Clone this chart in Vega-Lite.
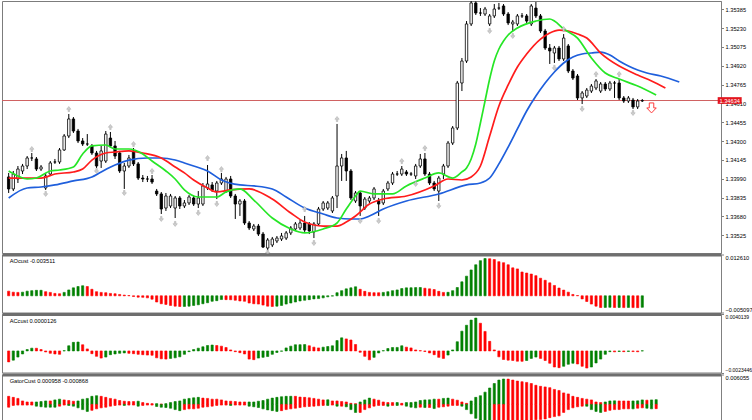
{
"$schema": "https://vega.github.io/schema/vega-lite/v6.json",
"background": "white",
"padding": {"left": 1, "top": 0, "right": 0, "bottom": 0},
"spacing": 1.5,
"bounds": "flush",
"config": {
 "view": {"stroke": "#7c7c7c", "strokeWidth": 1},
 "font": "Liberation Sans",
 "axis": {"labelFont": "Liberation Sans", "labelFontSize": 5.7, "labelColor": "#000000", "tickColor": "#808080", "domainColor": "#808080", "tickSize": 2.5, "labelPadding": 1.5, "grid": false},
 "text": {"font": "Liberation Sans"}
},
"datasets": {
 "price": [{"price": 1.34634}],
 "signal": [{"i": 139, "p": 1.34573}],
 "candles": [
{"i":0,"o":1.34005,"h":1.34038,"l":1.33873,"c":1.33906},
{"i":1,"o":1.33906,"h":1.34054,"l":1.33889,"c":1.34029},
{"i":2,"o":1.33988,"h":1.34095,"l":1.33955,"c":1.34070},
{"i":3,"o":1.34054,"h":1.34112,"l":1.34029,"c":1.34095},
{"i":4,"o":1.34095,"h":1.34177,"l":1.34070,"c":1.34161},
{"i":5,"o":1.34161,"h":1.34202,"l":1.34136,"c":1.34161},
{"i":6,"o":1.34153,"h":1.34169,"l":1.34054,"c":1.34070},
{"i":7,"o":1.34070,"h":1.34103,"l":1.34054,"c":1.34087},
{"i":8,"o":1.33914,"h":1.34038,"l":1.33898,"c":1.34013},
{"i":9,"o":1.34029,"h":1.34136,"l":1.34013,"c":1.34120},
{"i":10,"o":1.34128,"h":1.34153,"l":1.34112,"c":1.34128},
{"i":11,"o":1.34128,"h":1.34243,"l":1.34112,"c":1.34227},
{"i":12,"o":1.34227,"h":1.34358,"l":1.34219,"c":1.34342},
{"i":13,"o":1.34342,"h":1.34523,"l":1.34325,"c":1.34482},
{"i":14,"o":1.34482,"h":1.34498,"l":1.34367,"c":1.34383},
{"i":15,"o":1.34383,"h":1.34400,"l":1.34284,"c":1.34301},
{"i":16,"o":1.34301,"h":1.34325,"l":1.34260,"c":1.34276},
{"i":17,"o":1.34276,"h":1.34358,"l":1.34260,"c":1.34276},
{"i":18,"o":1.34260,"h":1.34276,"l":1.34186,"c":1.34202},
{"i":19,"o":1.34202,"h":1.34219,"l":1.34079,"c":1.34095},
{"i":20,"o":1.34136,"h":1.34260,"l":1.34079,"c":1.34219},
{"i":21,"o":1.34136,"h":1.34383,"l":1.34120,"c":1.34358},
{"i":22,"o":1.34325,"h":1.34375,"l":1.34243,"c":1.34260},
{"i":23,"o":1.34260,"h":1.34301,"l":1.34153,"c":1.34177},
{"i":24,"o":1.34202,"h":1.34219,"l":1.34038,"c":1.34054},
{"i":25,"o":1.34054,"h":1.34120,"l":1.33906,"c":1.34095},
{"i":26,"o":1.34095,"h":1.34186,"l":1.34079,"c":1.34161},
{"i":27,"o":1.34219,"h":1.34243,"l":1.34095,"c":1.34112},
{"i":28,"o":1.34112,"h":1.34128,"l":1.33980,"c":1.33996},
{"i":29,"o":1.33996,"h":1.34021,"l":1.33963,"c":1.33988},
{"i":30,"o":1.33988,"h":1.34013,"l":1.33963,"c":1.33988},
{"i":31,"o":1.33988,"h":1.34021,"l":1.33947,"c":1.33963},
{"i":32,"o":1.33889,"h":1.33906,"l":1.33848,"c":1.33865},
{"i":33,"o":1.33865,"h":1.33881,"l":1.33700,"c":1.33741},
{"i":34,"o":1.33749,"h":1.33873,"l":1.33725,"c":1.33848},
{"i":35,"o":1.33766,"h":1.33865,"l":1.33749,"c":1.33848},
{"i":36,"o":1.33749,"h":1.33848,"l":1.33667,"c":1.33832},
{"i":37,"o":1.33832,"h":1.33848,"l":1.33741,"c":1.33766},
{"i":38,"o":1.33766,"h":1.33815,"l":1.33749,"c":1.33791},
{"i":39,"o":1.33791,"h":1.33856,"l":1.33774,"c":1.33840},
{"i":40,"o":1.33832,"h":1.33848,"l":1.33766,"c":1.33782},
{"i":41,"o":1.33782,"h":1.33889,"l":1.33749,"c":1.33832},
{"i":42,"o":1.33782,"h":1.33955,"l":1.33766,"c":1.33931},
{"i":43,"o":1.33914,"h":1.34103,"l":1.33898,"c":1.33947},
{"i":44,"o":1.33939,"h":1.33963,"l":1.33881,"c":1.33898},
{"i":45,"o":1.33889,"h":1.33972,"l":1.33823,"c":1.33955},
{"i":46,"o":1.33955,"h":1.34038,"l":1.33939,"c":1.33988},
{"i":47,"o":1.33889,"h":1.34005,"l":1.33873,"c":1.33988},
{"i":48,"o":1.33988,"h":1.34013,"l":1.33832,"c":1.33848},
{"i":49,"o":1.33848,"h":1.33865,"l":1.33659,"c":1.33782},
{"i":50,"o":1.33782,"h":1.33823,"l":1.33684,"c":1.33807},
{"i":51,"o":1.33807,"h":1.33823,"l":1.33610,"c":1.33626},
{"i":52,"o":1.33626,"h":1.33642,"l":1.33568,"c":1.33585},
{"i":53,"o":1.33577,"h":1.33618,"l":1.33560,"c":1.33601},
{"i":54,"o":1.33601,"h":1.33618,"l":1.33519,"c":1.33535},
{"i":55,"o":1.33535,"h":1.33552,"l":1.33420,"c":1.33428},
{"i":56,"o":1.33420,"h":1.33502,"l":1.33404,"c":1.33486},
{"i":57,"o":1.33445,"h":1.33511,"l":1.33428,"c":1.33494},
{"i":58,"o":1.33478,"h":1.33519,"l":1.33461,"c":1.33502},
{"i":59,"o":1.33494,"h":1.33544,"l":1.33478,"c":1.33519},
{"i":60,"o":1.33502,"h":1.33560,"l":1.33486,"c":1.33544},
{"i":61,"o":1.33544,"h":1.33601,"l":1.33527,"c":1.33585},
{"i":62,"o":1.33577,"h":1.33634,"l":1.33560,"c":1.33618},
{"i":63,"o":1.33585,"h":1.33651,"l":1.33568,"c":1.33626},
{"i":64,"o":1.33626,"h":1.33684,"l":1.33552,"c":1.33568},
{"i":65,"o":1.33618,"h":1.33634,"l":1.33535,"c":1.33560},
{"i":66,"o":1.33552,"h":1.33634,"l":1.33502,"c":1.33618},
{"i":67,"o":1.33618,"h":1.33758,"l":1.33601,"c":1.33741},
{"i":68,"o":1.33741,"h":1.33807,"l":1.33725,"c":1.33791},
{"i":69,"o":1.33749,"h":1.33807,"l":1.33733,"c":1.33791},
{"i":70,"o":1.33725,"h":1.33848,"l":1.33708,"c":1.33832},
{"i":71,"o":1.33848,"h":1.34441,"l":1.33749,"c":1.34095},
{"i":72,"o":1.34095,"h":1.34194,"l":1.33972,"c":1.34161},
{"i":73,"o":1.34161,"h":1.34219,"l":1.33972,"c":1.34054},
{"i":74,"o":1.34054,"h":1.34070,"l":1.33815,"c":1.33832},
{"i":75,"o":1.33807,"h":1.33889,"l":1.33791,"c":1.33873},
{"i":76,"o":1.33873,"h":1.33889,"l":1.33684,"c":1.33766},
{"i":77,"o":1.33749,"h":1.33840,"l":1.33733,"c":1.33823},
{"i":78,"o":1.33807,"h":1.33848,"l":1.33791,"c":1.33832},
{"i":79,"o":1.33832,"h":1.33922,"l":1.33815,"c":1.33906},
{"i":80,"o":1.33807,"h":1.33832,"l":1.33684,"c":1.33782},
{"i":81,"o":1.33791,"h":1.33906,"l":1.33774,"c":1.33889},
{"i":82,"o":1.33906,"h":1.33972,"l":1.33889,"c":1.33955},
{"i":83,"o":1.33955,"h":1.34046,"l":1.33939,"c":1.34029},
{"i":84,"o":1.34029,"h":1.34054,"l":1.34013,"c":1.34029},
{"i":85,"o":1.34029,"h":1.34095,"l":1.34013,"c":1.34070},
{"i":86,"o":1.34046,"h":1.34062,"l":1.34013,"c":1.34029},
{"i":87,"o":1.34029,"h":1.34046,"l":1.34013,"c":1.34029},
{"i":88,"o":1.34013,"h":1.34112,"l":1.33988,"c":1.34095},
{"i":89,"o":1.34095,"h":1.34194,"l":1.34079,"c":1.34153},
{"i":90,"o":1.34153,"h":1.34202,"l":1.34013,"c":1.34029},
{"i":91,"o":1.34029,"h":1.34046,"l":1.33939,"c":1.33955},
{"i":92,"o":1.33955,"h":1.33972,"l":1.33889,"c":1.33906},
{"i":93,"o":1.33889,"h":1.34013,"l":1.33807,"c":1.33996},
{"i":94,"o":1.34029,"h":1.34112,"l":1.33988,"c":1.34095},
{"i":95,"o":1.34095,"h":1.34301,"l":1.34079,"c":1.34284},
{"i":96,"o":1.34284,"h":1.34424,"l":1.34268,"c":1.34408},
{"i":97,"o":1.34408,"h":1.34795,"l":1.34391,"c":1.34778},
{"i":98,"o":1.34778,"h":1.34984,"l":1.34712,"c":1.34959},
{"i":99,"o":1.34959,"h":1.35288,"l":1.34943,"c":1.35264},
{"i":100,"o":1.35264,"h":1.35453,"l":1.35247,"c":1.35437},
{"i":101,"o":1.35437,"h":1.35450,"l":1.35338,"c":1.35354},
{"i":102,"o":1.35354,"h":1.35395,"l":1.35330,"c":1.35354},
{"i":103,"o":1.35346,"h":1.35404,"l":1.35330,"c":1.35387},
{"i":104,"o":1.35264,"h":1.35346,"l":1.35247,"c":1.35330},
{"i":105,"o":1.35330,"h":1.35428,"l":1.35313,"c":1.35387},
{"i":106,"o":1.35395,"h":1.35437,"l":1.35379,"c":1.35395},
{"i":107,"o":1.35412,"h":1.35428,"l":1.35330,"c":1.35346},
{"i":108,"o":1.35346,"h":1.35362,"l":1.35255,"c":1.35272},
{"i":109,"o":1.35264,"h":1.35297,"l":1.35206,"c":1.35280},
{"i":110,"o":1.35264,"h":1.35346,"l":1.35247,"c":1.35330},
{"i":111,"o":1.35330,"h":1.35354,"l":1.35313,"c":1.35330},
{"i":112,"o":1.35330,"h":1.35346,"l":1.35272,"c":1.35288},
{"i":113,"o":1.35264,"h":1.35428,"l":1.35247,"c":1.35412},
{"i":114,"o":1.35395,"h":1.35445,"l":1.35313,"c":1.35330},
{"i":115,"o":1.35330,"h":1.35346,"l":1.35190,"c":1.35206},
{"i":116,"o":1.35206,"h":1.35223,"l":1.35050,"c":1.35066},
{"i":117,"o":1.35066,"h":1.35099,"l":1.34935,"c":1.35042},
{"i":118,"o":1.35025,"h":1.35083,"l":1.34943,"c":1.35066},
{"i":119,"o":1.35066,"h":1.35083,"l":1.34959,"c":1.34976},
{"i":120,"o":1.34976,"h":1.35181,"l":1.34959,"c":1.35148},
{"i":121,"o":1.35083,"h":1.35099,"l":1.34860,"c":1.34877},
{"i":122,"o":1.34877,"h":1.34893,"l":1.34803,"c":1.34819},
{"i":123,"o":1.34836,"h":1.34852,"l":1.34638,"c":1.34655},
{"i":124,"o":1.34655,"h":1.34712,"l":1.34605,"c":1.34696},
{"i":125,"o":1.34671,"h":1.34737,"l":1.34655,"c":1.34720},
{"i":126,"o":1.34712,"h":1.34770,"l":1.34696,"c":1.34753},
{"i":127,"o":1.34737,"h":1.34811,"l":1.34720,"c":1.34795},
{"i":128,"o":1.34712,"h":1.34786,"l":1.34696,"c":1.34770},
{"i":129,"o":1.34770,"h":1.34786,"l":1.34712,"c":1.34729},
{"i":130,"o":1.34729,"h":1.34795,"l":1.34712,"c":1.34778},
{"i":131,"o":1.34778,"h":1.34795,"l":1.34655,"c":1.34778},
{"i":132,"o":1.34778,"h":1.34811,"l":1.34638,"c":1.34655},
{"i":133,"o":1.34655,"h":1.34671,"l":1.34614,"c":1.34630},
{"i":134,"o":1.34630,"h":1.34671,"l":1.34614,"c":1.34655},
{"i":135,"o":1.34638,"h":1.34655,"l":1.34564,"c":1.34581},
{"i":136,"o":1.34581,"h":1.34646,"l":1.34564,"c":1.34630},
{"i":137,"o":1.34630,"h":1.34646,"l":1.34622,"c":1.34634}
 ],
 "ma": [
{"s":"jaw","i":0,"v":1.33832},{"s":"jaw","i":4,"v":1.33914},{"s":"jaw","i":7,"v":1.33922},{"s":"jaw","i":10,"v":1.33939},{"s":"jaw","i":14,"v":1.33972},{"s":"jaw","i":18,"v":1.34005},{"s":"jaw","i":20,"v":1.34046},{"s":"jaw","i":23,"v":1.34103},{"s":"jaw","i":26,"v":1.34144},{"s":"jaw","i":30,"v":1.34161},{"s":"jaw","i":33,"v":1.34161},{"s":"jaw","i":36,"v":1.34144},{"s":"jaw","i":38,"v":1.34120},{"s":"jaw","i":40,"v":1.34095},{"s":"jaw","i":43,"v":1.34054},{"s":"jaw","i":46,"v":1.33980},{"s":"jaw","i":50,"v":1.33939},{"s":"jaw","i":53,"v":1.33931},{"s":"jaw","i":57,"v":1.33906},{"s":"jaw","i":60,"v":1.33840},{"s":"jaw","i":64,"v":1.33749},{"s":"jaw","i":68,"v":1.33700},{"s":"jaw","i":71,"v":1.33667},{"s":"jaw","i":74,"v":1.33659},{"s":"jaw","i":76,"v":1.33659},{"s":"jaw","i":78,"v":1.33684},{"s":"jaw","i":81,"v":1.33741},{"s":"jaw","i":86,"v":1.33807},{"s":"jaw","i":93,"v":1.33865},{"s":"jaw","i":99,"v":1.33939},{"s":"jaw","i":102,"v":1.33955},{"s":"jaw","i":104,"v":1.33996},{"s":"jaw","i":106,"v":1.34112},{"s":"jaw","i":108,"v":1.34251},{"s":"jaw","i":110,"v":1.34400},{"s":"jaw","i":112,"v":1.34548},{"s":"jaw","i":114,"v":1.34671},{"s":"jaw","i":116,"v":1.34778},{"s":"jaw","i":118,"v":1.34869},{"s":"jaw","i":120,"v":1.34943},{"s":"jaw","i":122,"v":1.34992},{"s":"jaw","i":124,"v":1.35017},{"s":"jaw","i":126,"v":1.35025},{"s":"jaw","i":128,"v":1.35033},{"s":"jaw","i":130,"v":1.35009},{"s":"jaw","i":132,"v":1.34959},{"s":"jaw","i":134,"v":1.34918},{"s":"jaw","i":136,"v":1.34885},{"s":"jaw","i":138,"v":1.34860},{"s":"jaw","i":141,"v":1.34836},{"s":"jaw","i":145,"v":1.34786},
{"s":"teeth","i":0,"v":1.33996},{"s":"teeth","i":3,"v":1.33996},{"s":"teeth","i":7,"v":1.33996},{"s":"teeth","i":10,"v":1.34029},{"s":"teeth","i":14,"v":1.34046},{"s":"teeth","i":16,"v":1.34070},{"s":"teeth","i":18,"v":1.34144},{"s":"teeth","i":21,"v":1.34202},{"s":"teeth","i":23,"v":1.34210},{"s":"teeth","i":26,"v":1.34219},{"s":"teeth","i":29,"v":1.34202},{"s":"teeth","i":33,"v":1.34161},{"s":"teeth","i":36,"v":1.34087},{"s":"teeth","i":38,"v":1.34038},{"s":"teeth","i":40,"v":1.33980},{"s":"teeth","i":43,"v":1.33914},{"s":"teeth","i":45,"v":1.33881},{"s":"teeth","i":48,"v":1.33898},{"s":"teeth","i":52,"v":1.33906},{"s":"teeth","i":57,"v":1.33823},{"s":"teeth","i":61,"v":1.33708},{"s":"teeth","i":64,"v":1.33634},{"s":"teeth","i":68,"v":1.33601},{"s":"teeth","i":71,"v":1.33601},{"s":"teeth","i":73,"v":1.33634},{"s":"teeth","i":75,"v":1.33684},{"s":"teeth","i":78,"v":1.33782},{"s":"teeth","i":81,"v":1.33823},{"s":"teeth","i":86,"v":1.33848},{"s":"teeth","i":92,"v":1.33931},{"s":"teeth","i":95,"v":1.33988},{"s":"teeth","i":98,"v":1.33980},{"s":"teeth","i":100,"v":1.34005},{"s":"teeth","i":102,"v":1.34095},{"s":"teeth","i":104,"v":1.34342},{"s":"teeth","i":106,"v":1.34589},{"s":"teeth","i":108,"v":1.34762},{"s":"teeth","i":110,"v":1.34910},{"s":"teeth","i":112,"v":1.35017},{"s":"teeth","i":115,"v":1.35140},{"s":"teeth","i":117,"v":1.35190},{"s":"teeth","i":119,"v":1.35214},{"s":"teeth","i":121,"v":1.35206},{"s":"teeth","i":123,"v":1.35181},{"s":"teeth","i":125,"v":1.35148},{"s":"teeth","i":128,"v":1.35025},{"s":"teeth","i":132,"v":1.34918},{"s":"teeth","i":136,"v":1.34844},{"s":"teeth","i":139,"v":1.34795},{"s":"teeth","i":142,"v":1.34737},
{"s":"lips","i":0,"v":1.34054},{"s":"lips","i":2,"v":1.34013},{"s":"lips","i":4,"v":1.33988},{"s":"lips","i":6,"v":1.33996},{"s":"lips","i":9,"v":1.34054},{"s":"lips","i":11,"v":1.34062},{"s":"lips","i":14,"v":1.34087},{"s":"lips","i":16,"v":1.34194},{"s":"lips","i":18,"v":1.34260},{"s":"lips","i":21,"v":1.34268},{"s":"lips","i":23,"v":1.34235},{"s":"lips","i":26,"v":1.34235},{"s":"lips","i":29,"v":1.34194},{"s":"lips","i":31,"v":1.34136},{"s":"lips","i":34,"v":1.34054},{"s":"lips","i":36,"v":1.33988},{"s":"lips","i":38,"v":1.33898},{"s":"lips","i":41,"v":1.33840},{"s":"lips","i":45,"v":1.33840},{"s":"lips","i":47,"v":1.33881},{"s":"lips","i":50,"v":1.33906},{"s":"lips","i":53,"v":1.33815},{"s":"lips","i":57,"v":1.33667},{"s":"lips","i":61,"v":1.33577},{"s":"lips","i":64,"v":1.33544},{"s":"lips","i":68,"v":1.33577},{"s":"lips","i":71,"v":1.33626},{"s":"lips","i":73,"v":1.33741},{"s":"lips","i":75,"v":1.33848},{"s":"lips","i":76,"v":1.33889},{"s":"lips","i":79,"v":1.33865},{"s":"lips","i":83,"v":1.33865},{"s":"lips","i":86,"v":1.33931},{"s":"lips","i":90,"v":1.33996},{"s":"lips","i":93,"v":1.34038},{"s":"lips","i":96,"v":1.33996},{"s":"lips","i":98,"v":1.34046},{"s":"lips","i":99,"v":1.34079},{"s":"lips","i":100,"v":1.34153},{"s":"lips","i":101,"v":1.34276},{"s":"lips","i":102,"v":1.34449},{"s":"lips","i":103,"v":1.34630},{"s":"lips","i":104,"v":1.34811},{"s":"lips","i":105,"v":1.34959},{"s":"lips","i":106,"v":1.35058},{"s":"lips","i":107,"v":1.35124},{"s":"lips","i":108,"v":1.35173},{"s":"lips","i":110,"v":1.35231},{"s":"lips","i":114,"v":1.35288},{"s":"lips","i":117,"v":1.35305},{"s":"lips","i":118,"v":1.35288},{"s":"lips","i":120,"v":1.35223},{"s":"lips","i":123,"v":1.35148},{"s":"lips","i":126,"v":1.34984},{"s":"lips","i":129,"v":1.34860},{"s":"lips","i":132,"v":1.34811},{"s":"lips","i":136,"v":1.34753},{"s":"lips","i":140,"v":1.34679}
 ],
 "fractals": [
{"i":5,"t":"up","p":1.34235},{"i":13,"t":"up","p":1.34564},{"i":22,"t":"up","p":1.34416},{"i":27,"t":"up","p":1.34276},{"i":31,"t":"up","p":1.34054},{"i":43,"t":"up","p":1.34161},{"i":46,"t":"up","p":1.34070},{"i":64,"t":"up","p":1.33741},{"i":71,"t":"up","p":1.34482},{"i":85,"t":"up","p":1.34136},{"i":90,"t":"up","p":1.34243},{"i":120,"t":"up","p":1.35223},{"i":127,"t":"up","p":1.34852},{"i":132,"t":"up","p":1.34852},
{"i":8,"t":"down","p":1.33865},{"i":19,"t":"down","p":1.34054},{"i":25,"t":"down","p":1.33873},{"i":33,"t":"down","p":1.33659},{"i":36,"t":"down","p":1.33618},{"i":41,"t":"down","p":1.33708},{"i":45,"t":"down","p":1.33782},{"i":56,"t":"down","p":1.33383},{"i":66,"t":"down","p":1.33461},{"i":76,"t":"down","p":1.33642},{"i":80,"t":"down","p":1.33642},{"i":88,"t":"down","p":1.33947},{"i":93,"t":"down","p":1.33766},{"i":104,"t":"down","p":1.35206},{"i":109,"t":"down","p":1.35165},{"i":118,"t":"down","p":1.34902},{"i":124,"t":"down","p":1.34564},{"i":135,"t":"down","p":1.34531}
 ],
 "ao": [
{"i":0,"v":0.00142,"c":"r"},{"i":1,"v":0.00111,"c":"r"},{"i":2,"v":0.00104,"c":"r"},{"i":3,"v":0.00111,"c":"g"},{"i":4,"v":0.00142,"c":"g"},{"i":5,"v":0.00158,"c":"g"},{"i":6,"v":0.00167,"c":"g"},{"i":7,"v":0.00168,"c":"g"},{"i":8,"v":0.00126,"c":"r"},{"i":9,"v":0.00104,"c":"r"},{"i":10,"v":0.00073,"c":"r"},{"i":11,"v":0.00063,"c":"r"},{"i":12,"v":0.00104,"c":"g"},{"i":13,"v":0.00180,"c":"g"},{"i":14,"v":0.00243,"c":"g"},{"i":15,"v":0.00284,"c":"g"},{"i":16,"v":0.00307,"c":"g"},{"i":17,"v":0.00284,"c":"r"},{"i":18,"v":0.00199,"c":"r"},{"i":19,"v":0.00126,"c":"r"},{"i":20,"v":0.00104,"c":"r"},{"i":21,"v":0.00095,"c":"r"},{"i":22,"v":0.00073,"c":"r"},{"i":23,"v":0.00063,"c":"r"},{"i":24,"v":0.00041,"c":"r"},{"i":25,"v":0.00022,"c":"r"},{"i":26,"v":0.00009,"c":"r"},{"i":27,"v":-0.00022,"c":"r"},{"i":28,"v":-0.00041,"c":"r"},{"i":29,"v":-0.00047,"c":"r"},{"i":30,"v":-0.00063,"c":"r"},{"i":31,"v":-0.00104,"c":"r"},{"i":32,"v":-0.00190,"c":"r"},{"i":33,"v":-0.00243,"c":"r"},{"i":34,"v":-0.00262,"c":"r"},{"i":35,"v":-0.00294,"c":"r"},{"i":36,"v":-0.00316,"c":"r"},{"i":37,"v":-0.00326,"c":"r"},{"i":38,"v":-0.00324,"c":"g"},{"i":39,"v":-0.00316,"c":"g"},{"i":40,"v":-0.00294,"c":"g"},{"i":41,"v":-0.00275,"c":"g"},{"i":42,"v":-0.00243,"c":"g"},{"i":43,"v":-0.00212,"c":"g"},{"i":44,"v":-0.00167,"c":"g"},{"i":45,"v":-0.00149,"c":"g"},{"i":46,"v":-0.00114,"c":"g"},{"i":47,"v":-0.00117,"c":"r"},{"i":48,"v":-0.00120,"c":"r"},{"i":49,"v":-0.00136,"c":"r"},{"i":50,"v":-0.00158,"c":"r"},{"i":51,"v":-0.00167,"c":"r"},{"i":52,"v":-0.00221,"c":"r"},{"i":53,"v":-0.00243,"c":"r"},{"i":54,"v":-0.00253,"c":"r"},{"i":55,"v":-0.00284,"c":"r"},{"i":56,"v":-0.00316,"c":"r"},{"i":57,"v":-0.00325,"c":"r"},{"i":58,"v":-0.00316,"c":"g"},{"i":59,"v":-0.00294,"c":"g"},{"i":60,"v":-0.00253,"c":"g"},{"i":61,"v":-0.00221,"c":"g"},{"i":62,"v":-0.00190,"c":"g"},{"i":63,"v":-0.00158,"c":"g"},{"i":64,"v":-0.00136,"c":"g"},{"i":65,"v":-0.00117,"c":"g"},{"i":66,"v":-0.00095,"c":"g"},{"i":67,"v":-0.00085,"c":"g"},{"i":68,"v":-0.00063,"c":"g"},{"i":69,"v":-0.00032,"c":"g"},{"i":70,"v":-0.00009,"c":"g"},{"i":71,"v":0.00095,"c":"g"},{"i":72,"v":0.00158,"c":"g"},{"i":73,"v":0.00212,"c":"g"},{"i":74,"v":0.00243,"c":"g"},{"i":75,"v":0.00275,"c":"g"},{"i":76,"v":0.00199,"c":"r"},{"i":77,"v":0.00136,"c":"r"},{"i":78,"v":0.00104,"c":"r"},{"i":79,"v":0.00095,"c":"r"},{"i":80,"v":0.00094,"c":"r"},{"i":81,"v":0.00104,"c":"g"},{"i":82,"v":0.00126,"c":"g"},{"i":83,"v":0.00158,"c":"g"},{"i":84,"v":0.00180,"c":"g"},{"i":85,"v":0.00221,"c":"g"},{"i":86,"v":0.00243,"c":"g"},{"i":87,"v":0.00246,"c":"g"},{"i":88,"v":0.00250,"c":"g"},{"i":89,"v":0.00253,"c":"g"},{"i":90,"v":0.00231,"c":"r"},{"i":91,"v":0.00212,"c":"r"},{"i":92,"v":0.00190,"c":"r"},{"i":93,"v":0.00136,"c":"r"},{"i":94,"v":0.00104,"c":"r"},{"i":95,"v":0.00107,"c":"g"},{"i":96,"v":0.00158,"c":"g"},{"i":97,"v":0.00253,"c":"g"},{"i":98,"v":0.00427,"c":"g"},{"i":99,"v":0.00600,"c":"g"},{"i":100,"v":0.00790,"c":"g"},{"i":101,"v":0.00948,"c":"g"},{"i":102,"v":0.01074,"c":"g"},{"i":103,"v":0.01138,"c":"g"},{"i":104,"v":0.01131,"c":"r"},{"i":105,"v":0.01106,"c":"r"},{"i":106,"v":0.01043,"c":"r"},{"i":107,"v":0.01011,"c":"r"},{"i":108,"v":0.00948,"c":"r"},{"i":109,"v":0.00853,"c":"r"},{"i":110,"v":0.00822,"c":"r"},{"i":111,"v":0.00727,"c":"r"},{"i":112,"v":0.00695,"c":"r"},{"i":113,"v":0.00664,"c":"r"},{"i":114,"v":0.00616,"c":"r"},{"i":115,"v":0.00537,"c":"r"},{"i":116,"v":0.00474,"c":"r"},{"i":117,"v":0.00395,"c":"r"},{"i":118,"v":0.00316,"c":"r"},{"i":119,"v":0.00237,"c":"r"},{"i":120,"v":0.00174,"c":"r"},{"i":121,"v":0.00111,"c":"r"},{"i":122,"v":0.00041,"c":"r"},{"i":123,"v":0.00009,"c":"r"},{"i":124,"v":-0.00095,"c":"r"},{"i":125,"v":-0.00174,"c":"r"},{"i":126,"v":-0.00253,"c":"r"},{"i":127,"v":-0.00316,"c":"r"},{"i":128,"v":-0.00357,"c":"r"},{"i":129,"v":-0.00354,"c":"g"},{"i":130,"v":-0.00351,"c":"g"},{"i":131,"v":-0.00357,"c":"r"},{"i":132,"v":-0.00354,"c":"g"},{"i":133,"v":-0.00360,"c":"r"},{"i":134,"v":-0.00354,"c":"g"},{"i":135,"v":-0.00360,"c":"r"},{"i":136,"v":-0.00363,"c":"r"},{"i":137,"v":-0.003511,"c":"g"}
 ],
 "ac": [
{"i":0,"v":-0.00119,"c":"r"},{"i":1,"v":-0.00100,"c":"g"},{"i":2,"v":-0.00067,"c":"g"},{"i":3,"v":-0.00033,"c":"g"},{"i":4,"v":0.00015,"c":"g"},{"i":5,"v":0.00030,"c":"g"},{"i":6,"v":0.00029,"c":"r"},{"i":7,"v":0.00015,"c":"r"},{"i":8,"v":-0.00011,"c":"r"},{"i":9,"v":-0.00026,"c":"r"},{"i":10,"v":-0.00033,"c":"r"},{"i":11,"v":-0.00037,"c":"r"},{"i":12,"v":0.00003,"c":"g"},{"i":13,"v":0.00056,"c":"g"},{"i":14,"v":0.00093,"c":"g"},{"i":15,"v":0.00097,"c":"g"},{"i":16,"v":0.00067,"c":"r"},{"i":17,"v":0.00022,"c":"r"},{"i":18,"v":-0.00030,"c":"r"},{"i":19,"v":-0.00059,"c":"r"},{"i":20,"v":-0.00078,"c":"r"},{"i":21,"v":-0.00067,"c":"g"},{"i":22,"v":-0.00041,"c":"g"},{"i":23,"v":-0.00033,"c":"g"},{"i":24,"v":-0.00026,"c":"g"},{"i":25,"v":-0.00022,"c":"g"},{"i":26,"v":-0.00026,"c":"r"},{"i":27,"v":-0.00030,"c":"r"},{"i":28,"v":-0.00037,"c":"r"},{"i":29,"v":-0.00041,"c":"r"},{"i":30,"v":-0.00045,"c":"r"},{"i":31,"v":-0.00047,"c":"r"},{"i":32,"v":-0.00075,"c":"r"},{"i":33,"v":-0.00086,"c":"r"},{"i":34,"v":-0.00089,"c":"r"},{"i":35,"v":-0.00081,"c":"g"},{"i":36,"v":-0.00075,"c":"g"},{"i":37,"v":-0.00064,"c":"g"},{"i":38,"v":-0.00037,"c":"g"},{"i":39,"v":-0.00008,"c":"g"},{"i":40,"v":0.00015,"c":"g"},{"i":41,"v":0.00030,"c":"g"},{"i":42,"v":0.00045,"c":"g"},{"i":43,"v":0.00059,"c":"g"},{"i":44,"v":0.00064,"c":"g"},{"i":45,"v":0.00059,"c":"r"},{"i":46,"v":0.00052,"c":"r"},{"i":47,"v":0.00037,"c":"r"},{"i":48,"v":0.00011,"c":"r"},{"i":49,"v":-0.00008,"c":"r"},{"i":50,"v":-0.00019,"c":"r"},{"i":51,"v":-0.00033,"c":"r"},{"i":52,"v":-0.00089,"c":"r"},{"i":53,"v":-0.00095,"c":"r"},{"i":54,"v":-0.00078,"c":"g"},{"i":55,"v":-0.00070,"c":"g"},{"i":56,"v":-0.00061,"c":"g"},{"i":57,"v":-0.00037,"c":"g"},{"i":58,"v":-0.00017,"c":"g"},{"i":59,"v":-0.00003,"c":"g"},{"i":60,"v":0.00033,"c":"g"},{"i":61,"v":0.00052,"c":"g"},{"i":62,"v":0.00067,"c":"g"},{"i":63,"v":0.00068,"c":"g"},{"i":64,"v":0.00069,"c":"g"},{"i":65,"v":0.00056,"c":"r"},{"i":66,"v":0.00041,"c":"r"},{"i":67,"v":0.00033,"c":"r"},{"i":68,"v":0.00041,"c":"g"},{"i":69,"v":0.00048,"c":"g"},{"i":70,"v":0.00056,"c":"g"},{"i":71,"v":0.00112,"c":"g"},{"i":72,"v":0.00142,"c":"g"},{"i":73,"v":0.00131,"c":"r"},{"i":74,"v":0.00119,"c":"r"},{"i":75,"v":0.00070,"c":"r"},{"i":76,"v":-0.00015,"c":"r"},{"i":77,"v":-0.00059,"c":"r"},{"i":78,"v":-0.00097,"c":"r"},{"i":79,"v":-0.00070,"c":"g"},{"i":80,"v":-0.00022,"c":"g"},{"i":81,"v":0.00003,"c":"g"},{"i":82,"v":0.00026,"c":"g"},{"i":83,"v":0.00037,"c":"g"},{"i":84,"v":0.00038,"c":"g"},{"i":85,"v":0.00056,"c":"g"},{"i":86,"v":0.00041,"c":"r"},{"i":87,"v":0.00033,"c":"r"},{"i":88,"v":0.00011,"c":"r"},{"i":89,"v":0.00003,"c":"r"},{"i":90,"v":-0.00006,"c":"r"},{"i":91,"v":-0.00022,"c":"r"},{"i":92,"v":-0.00041,"c":"r"},{"i":93,"v":-0.00070,"c":"r"},{"i":94,"v":-0.00081,"c":"r"},{"i":95,"v":-0.00045,"c":"g"},{"i":96,"v":0.00011,"c":"g"},{"i":97,"v":0.00100,"c":"g"},{"i":98,"v":0.00215,"c":"g"},{"i":99,"v":0.00279,"c":"g"},{"i":100,"v":0.00335,"c":"g"},{"i":101,"v":0.00357,"c":"g"},{"i":102,"v":0.00301,"c":"r"},{"i":103,"v":0.00212,"c":"r"},{"i":104,"v":0.00104,"c":"r"},{"i":105,"v":0.00011,"c":"r"},{"i":106,"v":-0.00064,"c":"r"},{"i":107,"v":-0.00093,"c":"r"},{"i":108,"v":-0.00100,"c":"r"},{"i":109,"v":-0.00104,"c":"r"},{"i":110,"v":-0.00112,"c":"r"},{"i":111,"v":-0.00113,"c":"r"},{"i":112,"v":-0.00104,"c":"g"},{"i":113,"v":-0.00081,"c":"g"},{"i":114,"v":-0.00067,"c":"g"},{"i":115,"v":-0.00081,"c":"r"},{"i":116,"v":-0.00104,"c":"r"},{"i":117,"v":-0.00134,"c":"r"},{"i":118,"v":-0.00175,"c":"r"},{"i":119,"v":-0.00182,"c":"r"},{"i":120,"v":-0.00167,"c":"g"},{"i":121,"v":-0.00145,"c":"g"},{"i":122,"v":-0.00134,"c":"g"},{"i":123,"v":-0.00142,"c":"r"},{"i":124,"v":-0.00167,"c":"r"},{"i":125,"v":-0.00186,"c":"r"},{"i":126,"v":-0.00175,"c":"g"},{"i":127,"v":-0.00131,"c":"g"},{"i":128,"v":-0.00089,"c":"g"},{"i":129,"v":-0.00037,"c":"g"},{"i":130,"v":-0.00008,"c":"g"},{"i":131,"v":-0.00010,"c":"r"},{"i":132,"v":-0.00006,"c":"g"},{"i":133,"v":-0.00008,"c":"r"},{"i":134,"v":-0.00005,"c":"g"},{"i":135,"v":-0.00007,"c":"r"},{"i":136,"v":-0.00009,"c":"r"},{"i":137,"v":0.0000126,"c":"g"}
 ],
 "gator": [
{"i":0,"u":0.00163,"uc":"r","d":-0.00057,"dc":"r"},{"i":1,"u":0.00142,"uc":"r","d":-0.00021,"dc":"r"},{"i":2,"u":0.00121,"uc":"r","d":-0.00015,"dc":"r"},{"i":3,"u":0.00070,"uc":"r","d":-0.00015,"dc":"r"},{"i":4,"u":0.00049,"uc":"r","d":-0.00015,"dc":"r"},{"i":5,"u":0.00049,"uc":"r","d":-0.00015,"dc":"r"},{"i":6,"u":0.00049,"uc":"g","d":-0.00036,"dc":"g"},{"i":7,"u":0.00057,"uc":"g","d":-0.00049,"dc":"g"},{"i":8,"u":0.00070,"uc":"g","d":-0.00057,"dc":"g"},{"i":9,"u":0.00070,"uc":"r","d":-0.00057,"dc":"g"},{"i":10,"u":0.00091,"uc":"g","d":-0.00057,"dc":"g"},{"i":11,"u":0.00106,"uc":"g","d":-0.00036,"dc":"r"},{"i":12,"u":0.00091,"uc":"r","d":-0.00015,"dc":"r"},{"i":13,"u":0.00078,"uc":"r","d":-0.00021,"dc":"g"},{"i":14,"u":0.00064,"uc":"r","d":-0.00036,"dc":"g"},{"i":15,"u":0.00070,"uc":"g","d":-0.00070,"dc":"g"},{"i":16,"u":0.00106,"uc":"g","d":-0.00106,"dc":"g"},{"i":17,"u":0.00121,"uc":"g","d":-0.00142,"dc":"g"},{"i":18,"u":0.00163,"uc":"g","d":-0.00121,"dc":"r"},{"i":19,"u":0.00176,"uc":"g","d":-0.00091,"dc":"r"},{"i":20,"u":0.00163,"uc":"r","d":-0.00070,"dc":"r"},{"i":21,"u":0.00142,"uc":"r","d":-0.00057,"dc":"r"},{"i":22,"u":0.00121,"uc":"r","d":-0.00036,"dc":"r"},{"i":23,"u":0.00106,"uc":"r","d":-0.00021,"dc":"r"},{"i":24,"u":0.00078,"uc":"r","d":-0.00015,"dc":"r"},{"i":25,"u":0.00064,"uc":"r","d":-0.00021,"dc":"g"},{"i":26,"u":0.00057,"uc":"r","d":-0.00015,"dc":"r"},{"i":27,"u":0.00057,"uc":"r","d":-0.00015,"dc":"r"},{"i":28,"u":0.00064,"uc":"g","d":-0.00036,"dc":"g"},{"i":29,"u":0.00036,"uc":"r","d":-0.00021,"dc":"r"},{"i":30,"u":0.00021,"uc":"r","d":-0.00015,"dc":"r"},{"i":31,"u":0.00015,"uc":"r","d":-0.00015,"dc":"r"},{"i":32,"u":0.00015,"uc":"g","d":-0.00042,"dc":"g"},{"i":33,"u":0.00006,"uc":"r","d":-0.00057,"dc":"g"},{"i":34,"u":0.00015,"uc":"g","d":-0.00064,"dc":"g"},{"i":35,"u":0.00036,"uc":"g","d":-0.00078,"dc":"g"},{"i":36,"u":0.00057,"uc":"g","d":-0.00106,"dc":"g"},{"i":37,"u":0.00070,"uc":"g","d":-0.00127,"dc":"g"},{"i":38,"u":0.00106,"uc":"g","d":-0.00106,"dc":"r"},{"i":39,"u":0.00121,"uc":"g","d":-0.00091,"dc":"r"},{"i":40,"u":0.00133,"uc":"g","d":-0.00091,"dc":"r"},{"i":41,"u":0.00142,"uc":"g","d":-0.00078,"dc":"r"},{"i":42,"u":0.00127,"uc":"r","d":-0.00057,"dc":"r"},{"i":43,"u":0.00121,"uc":"r","d":-0.00049,"dc":"r"},{"i":44,"u":0.00106,"uc":"r","d":-0.00036,"dc":"r"},{"i":45,"u":0.00106,"uc":"r","d":-0.00021,"dc":"r"},{"i":46,"u":0.00091,"uc":"r","d":-0.00015,"dc":"r"},{"i":47,"u":0.00070,"uc":"r","d":-0.00015,"dc":"r"},{"i":48,"u":0.00064,"uc":"r","d":-0.00021,"dc":"g"},{"i":49,"u":0.00057,"uc":"r","d":-0.00015,"dc":"r"},{"i":50,"u":0.00049,"uc":"r","d":-0.00015,"dc":"r"},{"i":51,"u":0.00049,"uc":"r","d":-0.00015,"dc":"r"},{"i":52,"u":0.00049,"uc":"g","d":-0.00036,"dc":"g"},{"i":53,"u":0.00049,"uc":"g","d":-0.00049,"dc":"g"},{"i":54,"u":0.00064,"uc":"g","d":-0.00064,"dc":"g"},{"i":55,"u":0.00078,"uc":"g","d":-0.00091,"dc":"g"},{"i":56,"u":0.00106,"uc":"g","d":-0.00112,"dc":"g"},{"i":57,"u":0.00127,"uc":"g","d":-0.00127,"dc":"g"},{"i":58,"u":0.00142,"uc":"g","d":-0.00142,"dc":"g"},{"i":59,"u":0.00155,"uc":"g","d":-0.00127,"dc":"r"},{"i":60,"u":0.00163,"uc":"g","d":-0.00106,"dc":"r"},{"i":61,"u":0.00164,"uc":"g","d":-0.00091,"dc":"r"},{"i":62,"u":0.00163,"uc":"r","d":-0.00078,"dc":"r"},{"i":63,"u":0.00148,"uc":"r","d":-0.00064,"dc":"r"},{"i":64,"u":0.00142,"uc":"r","d":-0.00049,"dc":"r"},{"i":65,"u":0.00133,"uc":"r","d":-0.00042,"dc":"r"},{"i":66,"u":0.00121,"uc":"r","d":-0.00036,"dc":"r"},{"i":67,"u":0.00106,"uc":"r","d":-0.00028,"dc":"r"},{"i":68,"u":0.00091,"uc":"r","d":-0.00021,"dc":"r"},{"i":69,"u":0.00092,"uc":"g","d":-0.00022,"dc":"g"},{"i":70,"u":0.00070,"uc":"r","d":-0.00015,"dc":"r"},{"i":71,"u":0.00070,"uc":"r","d":-0.00036,"dc":"g"},{"i":72,"u":0.00057,"uc":"r","d":-0.00036,"dc":"r"},{"i":73,"u":0.00049,"uc":"r","d":-0.00049,"dc":"g"},{"i":74,"u":0.00021,"uc":"r","d":-0.00106,"dc":"g"},{"i":75,"u":0.00015,"uc":"r","d":-0.00163,"dc":"g"},{"i":76,"u":0.00049,"uc":"g","d":-0.00163,"dc":"r"},{"i":77,"u":0.00091,"uc":"g","d":-0.00106,"dc":"r"},{"i":78,"u":0.00127,"uc":"g","d":-0.00070,"dc":"r"},{"i":79,"u":0.00106,"uc":"r","d":-0.00036,"dc":"r"},{"i":80,"u":0.00085,"uc":"r","d":-0.00021,"dc":"r"},{"i":81,"u":0.00049,"uc":"r","d":-0.00021,"dc":"r"},{"i":82,"u":0.00036,"uc":"r","d":-0.00036,"dc":"g"},{"i":83,"u":0.00036,"uc":"r","d":-0.00021,"dc":"r"},{"i":84,"u":0.00037,"uc":"g","d":-0.00022,"dc":"g"},{"i":85,"u":0.00021,"uc":"r","d":-0.00015,"dc":"r"},{"i":86,"u":0.00036,"uc":"g","d":-0.00036,"dc":"g"},{"i":87,"u":0.00037,"uc":"g","d":-0.00057,"dc":"g"},{"i":88,"u":0.00049,"uc":"g","d":-0.00070,"dc":"g"},{"i":89,"u":0.00078,"uc":"g","d":-0.00057,"dc":"r"},{"i":90,"u":0.00091,"uc":"g","d":-0.00064,"dc":"g"},{"i":91,"u":0.00092,"uc":"g","d":-0.00063,"dc":"r"},{"i":92,"u":0.00106,"uc":"g","d":-0.00085,"dc":"g"},{"i":93,"u":0.00105,"uc":"r","d":-0.00057,"dc":"r"},{"i":94,"u":0.00121,"uc":"g","d":-0.00049,"dc":"r"},{"i":95,"u":0.00127,"uc":"g","d":-0.00036,"dc":"r"},{"i":96,"u":0.00106,"uc":"r","d":-0.00021,"dc":"r"},{"i":97,"u":0.00085,"uc":"r","d":-0.00021,"dc":"r"},{"i":98,"u":0.00049,"uc":"r","d":-0.00036,"dc":"g"},{"i":99,"u":0.00021,"uc":"r","d":-0.00106,"dc":"g"},{"i":100,"u":0.00070,"uc":"g","d":-0.00191,"dc":"g"},{"i":101,"u":0.00142,"uc":"g","d":-0.00282,"dc":"g"},{"i":102,"u":0.00176,"uc":"g","d":-0.00318,"dc":"g"},{"i":103,"u":0.00248,"uc":"g","d":-0.00354,"dc":"g"},{"i":104,"u":0.00332,"uc":"g","d":-0.00360,"dc":"g"},{"i":105,"u":0.00423,"uc":"g","d":-0.00355,"dc":"r"},{"i":106,"u":0.00493,"uc":"g","d":-0.00350,"dc":"r"},{"i":107,"u":0.00514,"uc":"g","d":-0.00345,"dc":"r"},{"i":108,"u":0.00512,"uc":"r","d":-0.00340,"dc":"r"},{"i":109,"u":0.00493,"uc":"r","d":-0.00335,"dc":"r"},{"i":110,"u":0.00472,"uc":"r","d":-0.00330,"dc":"r"},{"i":111,"u":0.00459,"uc":"r","d":-0.00325,"dc":"r"},{"i":112,"u":0.00445,"uc":"r","d":-0.00320,"dc":"r"},{"i":113,"u":0.00423,"uc":"r","d":-0.00315,"dc":"r"},{"i":114,"u":0.00387,"uc":"r","d":-0.00310,"dc":"r"},{"i":115,"u":0.00366,"uc":"r","d":-0.00305,"dc":"r"},{"i":116,"u":0.00354,"uc":"r","d":-0.00296,"dc":"r"},{"i":117,"u":0.00339,"uc":"r","d":-0.00269,"dc":"r"},{"i":118,"u":0.00303,"uc":"r","d":-0.00248,"dc":"r"},{"i":119,"u":0.00282,"uc":"r","d":-0.00233,"dc":"r"},{"i":120,"u":0.00233,"uc":"r","d":-0.00163,"dc":"r"},{"i":121,"u":0.00212,"uc":"r","d":-0.00106,"dc":"r"},{"i":122,"u":0.00163,"uc":"r","d":-0.00070,"dc":"r"},{"i":123,"u":0.00142,"uc":"r","d":-0.00049,"dc":"r"},{"i":124,"u":0.00121,"uc":"r","d":-0.00036,"dc":"r"},{"i":125,"u":0.00106,"uc":"r","d":-0.00037,"dc":"g"},{"i":126,"u":0.00091,"uc":"r","d":-0.00106,"dc":"g"},{"i":127,"u":0.00049,"uc":"r","d":-0.00142,"dc":"g"},{"i":128,"u":0.00036,"uc":"r","d":-0.00163,"dc":"g"},{"i":129,"u":0.00049,"uc":"g","d":-0.00142,"dc":"r"},{"i":130,"u":0.00070,"uc":"g","d":-0.00121,"dc":"r"},{"i":131,"u":0.00071,"uc":"g","d":-0.00106,"dc":"r"},{"i":132,"u":0.00070,"uc":"r","d":-0.00105,"dc":"r"},{"i":133,"u":0.00069,"uc":"r","d":-0.00091,"dc":"r"},{"i":134,"u":0.00068,"uc":"r","d":-0.00090,"dc":"r"},{"i":135,"u":0.00070,"uc":"g","d":-0.00091,"dc":"g"},{"i":136,"u":0.00071,"uc":"g","d":-0.00078,"dc":"r"},{"i":137,"u":0.00091,"uc":"g","d":-0.00070,"dc":"r"},{"i":138,"u":0.00085,"uc":"r","d":-0.00078,"dc":"g"},{"i":139,"u":0.00091,"uc":"g","d":-0.00091,"dc":"g"},{"i":140,"u":0.000958,"uc":"g","d":-0.000868,"dc":"r"}
 ]
},
"vconcat": [
 {
  "width": 719, "height": 252,
  "resolve": {"axis": {"x": "independent", "y": "independent"}},
  "layer": [
   {"data": {"name": "price"}, "mark": {"type": "rule", "color": "#d06262", "strokeWidth": 1},
    "encoding": {"y": {"field": "price", "type": "quantitative", "scale": {"domain": [1.33379, 1.35453], "nice": false, "zero": false},
      "axis": {"orient": "right", "title": null, "grid": false, "format": ".5f", "values": [1.33525, 1.3368, 1.33835, 1.3399, 1.34145, 1.343, 1.34455, 1.3461, 1.34765, 1.3492, 1.35075, 1.3523, 1.35385]}}}},
   {"data": {"name": "candles"}, "mark": {"type": "rule", "color": "#000000", "strokeWidth": 1},
    "encoding": {"x": {"field": "i", "type": "quantitative", "scale": {"domain": [-0.36, 152.94], "nice": false, "zero": false}, "axis": null},
     "y": {"field": "l", "type": "quantitative", "scale": {"domain": [1.33379, 1.35453], "nice": false, "zero": false}, "axis": null}, "y2": {"field": "h"}}},
   {"data": {"name": "candles"}, "mark": {"type": "bar", "size": 2.4, "stroke": "#000000", "strokeWidth": 0.8},
    "encoding": {"x": {"field": "i", "type": "quantitative", "scale": {"domain": [-0.36, 152.94], "nice": false, "zero": false}, "axis": null},
     "y": {"field": "o", "type": "quantitative", "scale": {"domain": [1.33379, 1.35453], "nice": false, "zero": false}, "axis": null}, "y2": {"field": "c"},
     "fill": {"condition": {"test": "datum.c >= datum.o", "value": "#ffffff"}, "value": "#000000"}}},
   {"data": {"name": "ma"}, "mark": {"type": "line", "strokeWidth": 1.7, "interpolate": "monotone"},
    "encoding": {"x": {"field": "i", "type": "quantitative", "scale": {"domain": [-0.36, 152.94], "nice": false, "zero": false}, "axis": null},
     "y": {"field": "v", "type": "quantitative", "scale": {"domain": [1.33379, 1.35453], "nice": false, "zero": false}, "axis": null},
     "color": {"field": "s", "type": "nominal", "scale": {"domain": ["jaw", "teeth", "lips"], "range": ["#1f5fdc", "#ff1c1c", "#26e626"]}, "legend": null}}},
   {"data": {"name": "fractals"}, "mark": {"type": "point", "filled": true, "size": 26, "fill": "#cfcfcf", "stroke": "#999999", "strokeWidth": 0.4, "opacity": 1},
    "encoding": {"x": {"field": "i", "type": "quantitative", "scale": {"domain": [-0.36, 152.94], "nice": false, "zero": false}, "axis": null},
     "y": {"field": "p", "type": "quantitative", "scale": {"domain": [1.33379, 1.35453], "nice": false, "zero": false}, "axis": null},
     "shape": {"field": "t", "type": "nominal", "scale": {"domain": ["up", "down"], "range": ["M0,-1L0.85,0.1L0.3,0.1L0.3,1L-0.3,1L-0.3,0.1L-0.85,0.1Z", "M0,1L0.85,-0.1L0.3,-0.1L0.3,-1L-0.3,-1L-0.3,-0.1L-0.85,-0.1Z"]}, "legend": null}}},
   {"data": {"name": "signal"}, "mark": {"type": "point", "shape": "M-0.45,-1L0.45,-1L0.45,0L0.95,0L0,1L-0.95,0L-0.45,0Z", "size": 100, "filled": false, "fill": "#ffffff", "stroke": "#ff3b3b", "strokeWidth": 1, "opacity": 1},
    "encoding": {"x": {"field": "i", "type": "quantitative", "scale": {"domain": [-0.36, 152.94], "nice": false, "zero": false}, "axis": null},
     "y": {"field": "p", "type": "quantitative", "scale": {"domain": [1.33379, 1.35453], "nice": false, "zero": false}, "axis": null}}},
   {"data": {"name": "price"}, "mark": {"type": "point", "shape": "M-1,-0.28L1,-0.28L1,0.28L-1,0.28Z", "size": 576, "filled": true, "fill": "#e3161e", "strokeWidth": 0, "opacity": 1},
    "encoding": {"x": {"datum": 155.9, "type": "quantitative", "scale": {"domain": [-0.36, 152.94], "nice": false, "zero": false}, "axis": null},
     "y": {"field": "price", "type": "quantitative", "scale": {"domain": [1.33379, 1.35453], "nice": false, "zero": false}, "axis": null}}},
   {"data": {"name": "price"}, "mark": {"type": "text", "color": "#ffffff", "fontSize": 5.7, "align": "center", "baseline": "middle"},
    "encoding": {"x": {"datum": 155.9, "type": "quantitative", "scale": {"domain": [-0.36, 152.94], "nice": false, "zero": false}, "axis": null},
     "y": {"field": "price", "type": "quantitative", "scale": {"domain": [1.33379, 1.35453], "nice": false, "zero": false}, "axis": null},
     "text": {"field": "price", "type": "quantitative", "format": ".5f"}}}
  ]
 },
 {
  "width": 719, "height": 58,
  "resolve": {"axis": {"x": "independent", "y": "independent"}},
  "layer": [
   {"data": {"name": "ao"}, "mark": {"type": "bar", "size": 2.2, "strokeWidth": 0.6, "clip": true},
    "encoding": {"x": {"field": "i", "type": "quantitative", "scale": {"domain": [-0.36, 152.94], "nice": false, "zero": false},
      "axis": {"orient": "top", "labels": false, "ticks": false, "domain": true, "domainColor": "#6e6e6e", "domainWidth": 3, "title": null, "grid": false, "minExtent": 0, "offset": 0}},
     "y": {"field": "v", "type": "quantitative", "scale": {"domain": [-0.005097, 0.01261], "nice": false, "zero": false},
      "axis": {"orient": "right", "values": [-0.005097, 0.01261], "format": ".6f", "labelFlush": true, "title": null, "grid": false}},
     "y2": {"datum": 0},
     "fill": {"condition": {"test": "datum.c == 'g'", "value": "#008000"}, "value": "#ff0000"},
     "stroke": {"condition": {"test": "datum.c == 'g'", "value": "#008000"}, "value": "#ff0000"}}},
   {"data": {"values": [{"t": "AOcust -0.003511"}]}, "mark": {"type": "text", "align": "left", "baseline": "top", "dx": 1, "dy": 3.5, "fontSize": 5.7, "color": "#000000"},
    "encoding": {"x": {"datum": 0, "type": "quantitative", "scale": {"domain": [-0.36, 152.94], "nice": false, "zero": false}, "axis": null},
     "y": {"datum": 0.01261, "type": "quantitative", "scale": {"domain": [-0.005097, 0.01261], "nice": false, "zero": false}, "axis": null},
     "text": {"field": "t", "type": "nominal"}}}
  ]
 },
 {
  "width": 719, "height": 58.5,
  "resolve": {"axis": {"x": "independent", "y": "independent"}},
  "layer": [
   {"data": {"name": "ac"}, "mark": {"type": "bar", "size": 2.2, "strokeWidth": 0.6, "clip": true},
    "encoding": {"x": {"field": "i", "type": "quantitative", "scale": {"domain": [-0.36, 152.94], "nice": false, "zero": false},
      "axis": {"orient": "top", "labels": false, "ticks": false, "domain": true, "domainColor": "#6e6e6e", "domainWidth": 3, "title": null, "grid": false, "minExtent": 0, "offset": 0}},
     "y": {"field": "v", "type": "quantitative", "scale": {"domain": [-0.0023446, 0.0040139], "nice": false, "zero": false},
      "axis": {"orient": "right", "values": [-0.0023446, 0.0040139], "format": ".7f", "labelFlush": true, "labelFontSize": 5.0, "title": null, "grid": false}},
     "y2": {"datum": 0},
     "fill": {"condition": {"test": "datum.c == 'g'", "value": "#008000"}, "value": "#ff0000"},
     "stroke": {"condition": {"test": "datum.c == 'g'", "value": "#008000"}, "value": "#ff0000"}}},
   {"data": {"values": [{"t": "ACcust 0.0000126"}]}, "mark": {"type": "text", "align": "left", "baseline": "top", "dx": 1, "dy": 3.5, "fontSize": 5.7, "color": "#000000"},
    "encoding": {"x": {"datum": 0, "type": "quantitative", "scale": {"domain": [-0.36, 152.94], "nice": false, "zero": false}, "axis": null},
     "y": {"datum": 0.0040139, "type": "quantitative", "scale": {"domain": [-0.0023446, 0.0040139], "nice": false, "zero": false}, "axis": null},
     "text": {"field": "t", "type": "nominal"}}}
  ]
 },
 {
  "width": 719, "height": 47,
  "resolve": {"axis": {"x": "independent", "y": "independent"}},
  "layer": [
   {"data": {"name": "gator"}, "mark": {"type": "bar", "size": 2.2, "strokeWidth": 0.6, "clip": true},
    "encoding": {"x": {"field": "i", "type": "quantitative", "scale": {"domain": [-0.36, 152.94], "nice": false, "zero": false},
      "axis": {"orient": "top", "labels": false, "ticks": false, "domain": true, "domainColor": "#6e6e6e", "domainWidth": 3, "title": null, "grid": false, "minExtent": 0, "offset": 0}},
     "y": {"field": "u", "type": "quantitative", "scale": {"domain": [-0.00347, 0.006055], "nice": false, "zero": false},
      "axis": {"orient": "right", "values": [0.006055], "format": ".6f", "labelFlush": true, "title": null, "grid": false}},
     "y2": {"datum": 0},
     "fill": {"condition": {"test": "datum.uc == 'g'", "value": "#008000"}, "value": "#ff0000"},
     "stroke": {"condition": {"test": "datum.uc == 'g'", "value": "#008000"}, "value": "#ff0000"}}},
   {"data": {"name": "gator"}, "mark": {"type": "bar", "size": 2.2, "strokeWidth": 0.6, "clip": true},
    "encoding": {"x": {"field": "i", "type": "quantitative", "scale": {"domain": [-0.36, 152.94], "nice": false, "zero": false}, "axis": null},
     "y": {"field": "d", "type": "quantitative", "scale": {"domain": [-0.00347, 0.006055], "nice": false, "zero": false}, "axis": null},
     "y2": {"datum": 0},
     "fill": {"condition": {"test": "datum.dc == 'g'", "value": "#008000"}, "value": "#ff0000"},
     "stroke": {"condition": {"test": "datum.dc == 'g'", "value": "#008000"}, "value": "#ff0000"}}},
   {"data": {"values": [{"t": "GatorCust 0.000958 -0.000868"}]}, "mark": {"type": "text", "align": "left", "baseline": "top", "dx": 1, "dy": 3.5, "fontSize": 5.7, "color": "#000000"},
    "encoding": {"x": {"datum": 0, "type": "quantitative", "scale": {"domain": [-0.36, 152.94], "nice": false, "zero": false}, "axis": null},
     "y": {"datum": 0.006055, "type": "quantitative", "scale": {"domain": [-0.00347, 0.006055], "nice": false, "zero": false}, "axis": null},
     "text": {"field": "t", "type": "nominal"}}}
  ]
 }
]
}
